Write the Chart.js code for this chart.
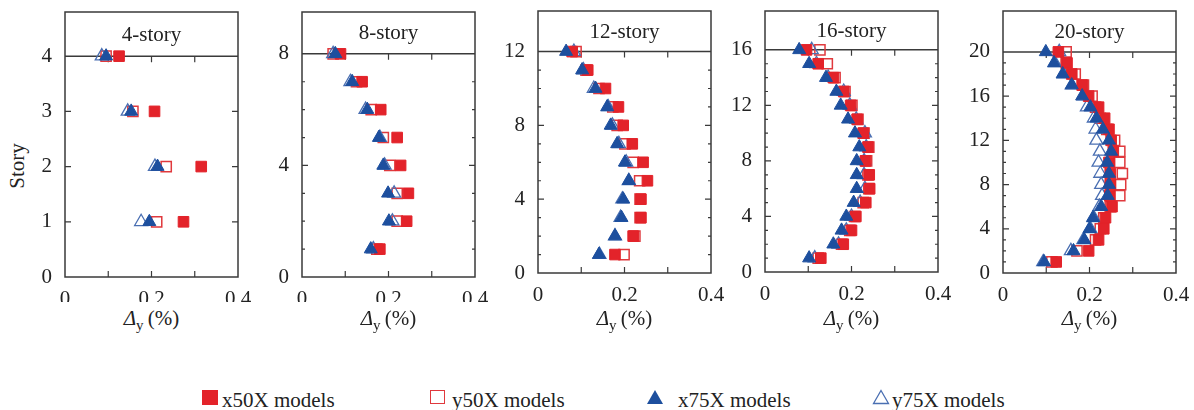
<!DOCTYPE html>
<html>
<head>
<meta charset="utf-8">
<script src="https://cdn.jsdelivr.net/npm/chart.js@4.4.0/dist/chart.umd.min.js"></script>
<style>
  body { margin: 0; background: #fff; width: 1194px; height: 410px; position: relative; overflow: hidden;
         font-family: "Liberation Serif", "DejaVu Serif", serif; color: #222; }
  canvas { position: absolute; top: 0; }
  .xtitle { position: absolute; top: 306px; width: 173px; text-align: center; font-size: 21px; line-height: 24px; white-space: nowrap; }
  .xtitle sub { font-size: 15px; vertical-align: -5px; line-height: 0; }
  .story { position: absolute; left: -8px; top: 154px; width: 50px; text-align: center; font-size: 21px; line-height: 24px;
           transform: rotate(-90deg); }
  .leg { position: absolute; top: 388px; font-size: 21px; line-height: 24px; white-space: nowrap; }
  .sym { position: absolute; }
</style>
</head>
<body>
<div class="story">Story</div>

<div class="sym" style="left:202px;top:390px;width:16px;height:15px;background:#e3232a;"></div>
<div class="leg" style="left:222px;">x50X models</div>
<div class="sym" style="left:430px;top:390px;width:13px;height:12px;border:1.5px solid #e0393d;"></div>
<div class="leg" style="left:452px;">y50X models</div>
<svg class="sym" style="left:646px;top:389px;" width="18" height="16"><polygon points="9,1 17,15 1,15" fill="#1d4f9e"/></svg>
<div class="leg" style="left:678px;">x75X models</div>
<svg class="sym" style="left:872px;top:389px;" width="18" height="16"><polygon points="9,1.5 16.5,14.5 1.5,14.5" fill="none" stroke="#4a6fb2" stroke-width="1.3"/></svg>
<div class="leg" style="left:892px;">y75X models</div>

<script>
// story numbers (y) for each building
var stories4  = [1, 2, 3, 4];
var stories8  = [1, 2, 3, 4, 5, 6, 7, 8];
var stories12 = [1, 2, 3, 4, 5, 6, 7, 8, 9, 10, 11, 12];
var stories16 = [1, 2, 3, 4, 5, 6, 7, 8, 9, 10, 11, 12, 13, 14, 15, 16];
var stories20 = [1, 2, 3, 4, 5, 6, 7, 8, 9, 10, 11, 12, 13, 14, 15, 16, 17, 18, 19, 20];

// drift ratio (%) per story, story 1 first
var x50X_4 = [0.274, 0.315, 0.207, 0.125];
var y50X_4 = [0.212, 0.234, 0.157, 0.095];
var x75X_4 = [0.195, 0.214, 0.153, 0.095];
var y75X_4 = [0.176, 0.208, 0.145, 0.085];

var x50X_8 = [0.180, 0.242, 0.246, 0.228, 0.220, 0.182, 0.139, 0.089];
var y50X_8 = [0.173, 0.220, 0.220, 0.203, 0.188, 0.160, 0.126, 0.072];
var x75X_8 = [0.159, 0.201, 0.199, 0.188, 0.178, 0.151, 0.116, 0.077];
var y75X_8 = [0.165, 0.209, 0.213, 0.191, 0.180, 0.147, 0.112, 0.072];

var x50X_12 = [0.178, 0.220, 0.238, 0.238, 0.253, 0.243, 0.218, 0.197, 0.186, 0.156, 0.115, 0.079];
var y50X_12 = [0.199, 0.224, 0.236, 0.236, 0.235, 0.220, 0.201, 0.183, 0.173, 0.141, 0.111, 0.088];
var x75X_12 = [0.141, 0.178, 0.193, 0.197, 0.210, 0.201, 0.183, 0.168, 0.160, 0.133, 0.102, 0.065];
var y75X_12 = [0.142, 0.178, 0.191, 0.195, 0.210, 0.204, 0.187, 0.172, 0.162, 0.129, 0.105, 0.083];

var x50X_16 = [0.129, 0.181, 0.200, 0.210, 0.233, 0.242, 0.241, 0.232, 0.238, 0.227, 0.213, 0.198, 0.182, 0.158, 0.123, 0.096];
var y50X_16 = [0.123, 0.177, 0.196, 0.207, 0.227, 0.240, 0.238, 0.235, 0.240, 0.229, 0.215, 0.201, 0.185, 0.162, 0.144, 0.127];
var x75X_16 = [0.102, 0.158, 0.177, 0.188, 0.205, 0.212, 0.212, 0.212, 0.218, 0.208, 0.192, 0.175, 0.165, 0.141, 0.102, 0.079];
var y75X_16 = [0.115, 0.170, 0.188, 0.200, 0.220, 0.231, 0.229, 0.229, 0.234, 0.231, 0.211, 0.196, 0.182, 0.146, 0.119, 0.108];

var x50X_20 = [0.123, 0.198, 0.221, 0.233, 0.237, 0.252, 0.247, 0.248, 0.248, 0.245, 0.255, 0.250, 0.245, 0.235, 0.221, 0.198, 0.183, 0.159, 0.148, 0.128];
var y50X_20 = [0.113, 0.171, 0.214, 0.225, 0.233, 0.248, 0.270, 0.272, 0.276, 0.270, 0.270, 0.258, 0.240, 0.225, 0.214, 0.206, 0.186, 0.167, 0.146, 0.146];
var x75X_20 = [0.095, 0.163, 0.188, 0.200, 0.208, 0.227, 0.242, 0.245, 0.245, 0.241, 0.250, 0.245, 0.231, 0.216, 0.202, 0.183, 0.159, 0.138, 0.118, 0.099];
var y75X_20 = [0.093, 0.157, 0.186, 0.202, 0.210, 0.223, 0.229, 0.227, 0.225, 0.221, 0.224, 0.216, 0.214, 0.210, 0.194, 0.186, 0.159, 0.140, 0.120, 0.130];

// tick labels
var xTicks = [0, 0.2, 0.4];
var xMinorTicks = [0.1, 0.2, 0.3];
var yTicks4  = [0, 1, 2, 3, 4];
var yTicks8  = [0, 4, 8];
var yTicks12 = [0, 4, 8, 12];
var yTicks16 = [0, 4, 8, 12, 16];
var yTicks20 = [0, 4, 8, 12, 16, 20];

var titles = ['4-story', '8-story', '12-story', '16-story', '20-story'];

var RED = '#e3232a';
var RED_LINE = '#e0393d';
var BLUE = '#1d4f9e';
var BLUE_LINE = '#4a6fb2';
var FONT = '"Liberation Serif", "DejaVu Serif", serif';

var panels = [
  { title: titles[0], st: stories4,  x50: x50X_4,  y50: y50X_4,  x75: x75X_4,  y75: y75X_4,  yt: yTicks4,  yMax: 4.8,  left: 65,   top: 12, bottom: 277 },
  { title: titles[1], st: stories8,  x50: x50X_8,  y50: y50X_8,  x75: x75X_8,  y75: y75X_8,  yt: yTicks8,  yMax: 9.5,  left: 302,  top: 12, bottom: 277 },
  { title: titles[2], st: stories12, x50: x50X_12, y50: y50X_12, x75: x75X_12, y75: y75X_12, yt: yTicks12, yMax: 14.2, left: 538,  top: 11, bottom: 273 },
  { title: titles[3], st: stories16, x50: x50X_16, y50: y50X_16, x75: x75X_16, y75: y75X_16, yt: yTicks16, yMax: 18.8, left: 765,  top: 11, bottom: 272 },
  { title: titles[4], st: stories20, x50: x50X_20, y50: y50X_20, x75: x75X_20, y75: y75X_20, yt: yTicks20, yMax: 23.7, left: 1003, top: 11, bottom: 273 }
];

var Y_AXIS_W = 60;
var PANEL_W = 173;
var RIGHT_PAD = 20;
var CANVAS_H = 302;

function toPoints(xs, ys) {
  var pts = [];
  for (var i = 0; i < xs.length; i++) {
    pts.push({ x: xs[i], y: ys[i] });
  }
  return pts;
}

// frame, title box, inward ticks
var framePlugin = {
  id: 'frame',
  beforeDatasetsDraw: function(chart, args, opts) {
    var ctx = chart.ctx, a = chart.chartArea;
    var xs = chart.scales.x, ys = chart.scales.y;
    var nTop = opts.stories;
    var yTop = ys.getPixelForValue(nTop);
    ctx.save();
    ctx.strokeStyle = '#3a3a3a';
    ctx.lineWidth = 1.5;
    ctx.strokeRect(a.left, a.top, a.right - a.left, a.bottom - a.top);
    ctx.beginPath();
    ctx.moveTo(a.left, yTop);
    ctx.lineTo(a.right, yTop);
    ctx.stroke();

    ctx.lineWidth = 1.2;
    ctx.beginPath();
    xMinorTicks.forEach(function(v) {
      var px = xs.getPixelForValue(v);
      ctx.moveTo(px, a.bottom); ctx.lineTo(px, a.bottom - 6);
      ctx.moveTo(px, yTop); ctx.lineTo(px, yTop + 6);
    });
    for (var s = 1; s < nTop; s++) {
      var py = ys.getPixelForValue(s);
      var len = opts.labels.indexOf(s) >= 0 ? 6 : 3;
      ctx.moveTo(a.left, py); ctx.lineTo(a.left + len, py);
      ctx.moveTo(a.right, py); ctx.lineTo(a.right - len, py);
    }
    ctx.stroke();

    ctx.fillStyle = '#222';
    ctx.font = '21px ' + FONT;
    ctx.textAlign = 'center';
    ctx.textBaseline = 'middle';
    ctx.fillText(opts.title, (a.left + a.right) / 2, (a.top + yTop) / 2 + 1);
    ctx.restore();
  }
};

function createPanel(p, idx) {
  var canvas = document.createElement('canvas');
  canvas.width = Y_AXIS_W + PANEL_W + RIGHT_PAD;
  canvas.height = CANVAS_H;
  canvas.style.left = (p.left - Y_AXIS_W) + 'px';
  document.body.appendChild(canvas);

  var title = document.createElement('div');
  title.className = 'xtitle';
  title.style.left = p.left + 'px';
  title.innerHTML = '<i>&Delta;</i><sub>y</sub>&thinsp;(%)';
  document.body.appendChild(title);

  var datasets = [
    { label: 'x75X models', data: toPoints(p.x75, p.st), pointStyle: 'triangle', pointRadius: 7.5,
      backgroundColor: BLUE, borderColor: BLUE, borderWidth: 1, order: 0 },
    { label: 'x50X models', data: toPoints(p.x50, p.st), pointStyle: 'rect', pointRadius: 7.5,
      backgroundColor: RED, borderColor: RED, borderWidth: 1, order: 1 },
    { label: 'y75X models', data: toPoints(p.y75, p.st), pointStyle: 'triangle', pointRadius: 7.5,
      backgroundColor: 'rgba(255,255,255,0)', borderColor: BLUE_LINE, borderWidth: 1.3, order: 2 },
    { label: 'y50X models', data: toPoints(p.y50, p.st), pointStyle: 'rect', pointRadius: 7.2,
      backgroundColor: 'rgba(255,255,255,0)', borderColor: RED_LINE, borderWidth: 1.5, order: 3 }
  ];

  new Chart(canvas.getContext('2d'), {
    type: 'scatter',
    data: { datasets: datasets },
    plugins: [framePlugin],
    options: {
      responsive: false,
      animation: false,
      clip: false,
      layout: { padding: { top: p.top, right: RIGHT_PAD, bottom: 0, left: 0 } },
      plugins: {
        legend: { display: false },
        tooltip: { enabled: false },
        frame: { stories: p.st.length, labels: p.yt, title: p.title }
      },
      scales: {
        x: {
          type: 'linear', min: 0, max: 0.4,
          grid: { display: false },
          border: { display: false },
          ticks: { padding: 2, color: '#222', font: { family: FONT, size: 21 } },
          afterBuildTicks: function(scale) {
            scale.ticks = xTicks.map(function(v) { return { value: v }; });
          },
          afterFit: function(scale) {
            scale.height = CANVAS_H - p.bottom;
            scale.paddingLeft = 0;
            scale.paddingRight = 0;
          }
        },
        y: {
          type: 'linear', min: 0, max: p.yMax,
          grid: { display: false },
          border: { display: false },
          ticks: { padding: 5, color: '#222', font: { family: FONT, size: 21 } },
          afterBuildTicks: function(scale) {
            scale.ticks = p.yt.map(function(v) { return { value: v }; });
          },
          afterFit: function(scale) {
            scale.width = Y_AXIS_W;
            scale.paddingTop = 0;
            scale.paddingBottom = 0;
          }
        }
      }
    }
  });
}

for (var i = 0; i < panels.length; i++) {
  createPanel(panels[i], i);
}
</script>
</body>
</html>
